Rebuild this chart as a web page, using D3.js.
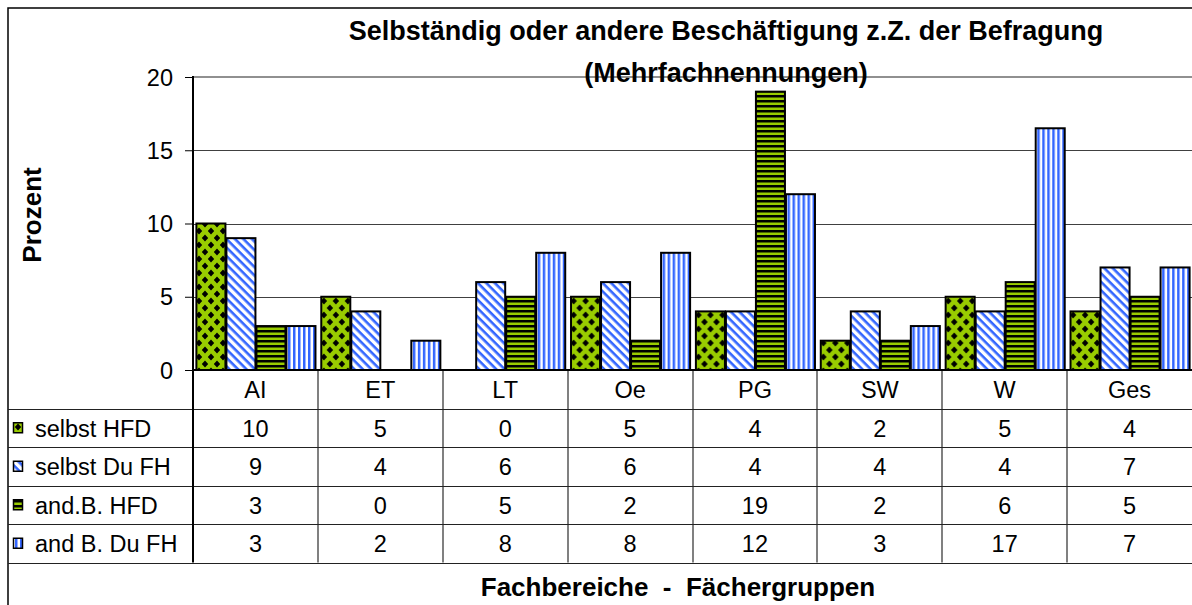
<!DOCTYPE html>
<html>
<head>
<meta charset="utf-8">
<script src="https://cdn.jsdelivr.net/npm/d3@7"></script>
<style>
  body { margin: 0; background: #fff; }
  text { font-family: Arial, 'Liberation Sans', sans-serif; fill: #000; }
</style>
</head>
<body>
<div id="chart"></div>
<script>
const categories = ['AI', 'ET', 'LT', 'Oe', 'PG', 'SW', 'W', 'Ges']
const seriesNames = ['selbst HFD', 'selbst Du FH', 'and.B. HFD', 'and B. Du FH']
const selbstHFD = [10, 5, 0, 5, 4, 2, 5, 4]
const selbstDuFH = [9, 4, 6, 6, 4, 4, 4, 7]
const andBHFD = [3, 0, 5, 2, 19, 2, 6, 5]
const andBDuFH = [3, 2, 8, 8, 12, 3, 16.5, 7]
const yTicks = [0, 5, 10, 15, 20]
const title = ['Selbständig oder andere Beschäftigung z.Z. der Befragung', '(Mehrfachnennungen)']

const series = [selbstHFD, selbstDuFH, andBHFD, andBDuFH]

const width = 1192
const height = 605
const plot = {left: 193, right: 1192, top: 77, bottom: 370}
const rowH = 38.5
const tableLeft = 8
const fontSize = '23.5px'
const boldSize = '26px'

const svg = d3.select('#chart').append('svg')
    .attr('width', width)
    .attr('height', height)

// fill patterns
const defs = svg.append('defs')
const green = '#99cc00'
const blue = '#3366ff'

let p = defs.append('pattern').attr('id', 'p0').attr('patternUnits', 'userSpaceOnUse')
    .attr('width', 12).attr('height', 14)
p.append('rect').attr('width', 12).attr('height', 14).attr('fill', green)
p.append('path').attr('fill', '#000')
    .attr('d', 'M6,3.4L9.2,7L6,10.6L2.8,7Z M0,-3.6L3.2,0L0,3.6L-3.2,0Z M12,-3.6L15.2,0L12,3.6L8.8,0Z M0,10.4L3.2,14L0,17.6L-3.2,14Z M12,10.4L15.2,14L12,17.6L8.8,14Z')

p = defs.append('pattern').attr('id', 'p1').attr('patternUnits', 'userSpaceOnUse')
    .attr('width', 8).attr('height', 6).attr('patternTransform', 'rotate(45)')
p.append('rect').attr('width', 8).attr('height', 6).attr('fill', '#fff')
p.append('rect').attr('width', 8).attr('height', 2.6).attr('fill', blue)

p = defs.append('pattern').attr('id', 'p2').attr('patternUnits', 'userSpaceOnUse')
    .attr('width', 5).attr('height', 5)
p.append('rect').attr('width', 5).attr('height', 5).attr('fill', green)
p.append('rect').attr('width', 5).attr('height', 2.5).attr('fill', '#000')

p = defs.append('pattern').attr('id', 'p3').attr('patternUnits', 'userSpaceOnUse')
    .attr('width', 5).attr('height', 5)
p.append('rect').attr('width', 5).attr('height', 5).attr('fill', '#fff')
p.append('rect').attr('width', 2.5).attr('height', 5).attr('fill', blue)

// scales
const x = d3.scaleBand().domain(categories).range([plot.left, plot.right])
const x1 = d3.scaleBand().domain(d3.range(series.length))
    .range([0, x.bandwidth()]).paddingOuter(0.08)
const y = d3.scaleLinear().domain([0, 20]).range([plot.bottom, plot.top])

// outer frame
svg.append('path').attr('d', `M${tableLeft},${height}V8H${width}`)
    .attr('fill', 'none').attr('stroke', '#000').attr('stroke-width', 1.5)

// gridlines
svg.append('g').selectAll('line').data(yTicks.filter(d => d > 0 && d < 20)).join('line')
    .attr('x1', plot.left).attr('x2', plot.right)
    .attr('y1', d => Math.round(y(d)) + 0.5).attr('y2', d => Math.round(y(d)) + 0.5)
    .attr('stroke', '#404040').attr('stroke-width', 1)
svg.append('line')
    .attr('x1', plot.left).attr('x2', plot.right)
    .attr('y1', y(20)).attr('y2', y(20))
    .attr('stroke', '#909090').attr('stroke-width', 2)

// y axis
const yAxis = d3.axisLeft(y).tickValues(yTicks).tickSize(8).tickPadding(12)
const gy = svg.append('g').attr('transform', `translate(${plot.left},0)`).call(yAxis)
gy.select('.domain').remove()
gy.selectAll('.tick line').attr('stroke', '#000').attr('stroke-width', 1)
gy.selectAll('.tick text').style('font-size', fontSize)
    .style('font-family', "Arial, 'Liberation Sans', sans-serif").attr('dy', '0.35em')

svg.append('text')
    .attr('transform', 'translate(32,215)rotate(-90)')
    .attr('dy', '0.35em')
    .attr('text-anchor', 'middle')
    .style('font-size', boldSize).style('font-weight', 'bold')
    .text('Prozent')

// bars
const groups = svg.append('g').selectAll('g').data(categories).join('g')
    .attr('transform', d => `translate(${x(d)},0)`)
groups.selectAll('rect')
    .data((c, i) => series.map((s, k) => ({k: k, v: s[i]})))
    .join('rect')
    .filter(d => d.v > 0)
    .attr('x', d => x1(d.k) + 1)
    .attr('width', x1.bandwidth() - 1)
    .attr('y', d => y(d.v))
    .attr('height', d => y(0) - y(d.v))
    .attr('fill', d => `url(#p${d.k})`)
    .attr('stroke', '#000').attr('stroke-width', 2)

// table
const tableBottom = plot.bottom + rowH * 5
const gt = svg.append('g')
gt.selectAll('line.cat').data(categories.slice(1)).join('line')
    .attr('x1', d => Math.round(x(d))).attr('x2', d => Math.round(x(d)))
    .attr('y1', plot.bottom).attr('y2', tableBottom)
    .attr('stroke', '#808080').attr('stroke-width', 2)
gt.selectAll('line.row').data(d3.range(1, 6)).join('line')
    .attr('x1', tableLeft).attr('x2', plot.right)
    .attr('y1', d => Math.round(plot.bottom + d * rowH) + 0.5)
    .attr('y2', d => Math.round(plot.bottom + d * rowH) + 0.5)
    .attr('stroke', '#222').attr('stroke-width', 1.2)

// baseline and y axis line
svg.append('line').attr('x1', plot.left).attr('x2', plot.right)
    .attr('y1', plot.bottom).attr('y2', plot.bottom)
    .attr('stroke', '#000').attr('stroke-width', 2)
svg.append('line').attr('x1', plot.left).attr('x2', plot.left)
    .attr('y1', plot.top - 1).attr('y2', tableBottom)
    .attr('stroke', '#000').attr('stroke-width', 2)

// category labels
gt.selectAll('text.cat').data(categories).join('text')
    .attr('x', d => x(d) + x.bandwidth() / 2)
    .attr('y', plot.bottom + rowH / 2 + 1)
    .attr('dy', '0.35em')
    .attr('text-anchor', 'middle')
    .style('font-size', fontSize)
    .text(d => d)

// value rows
series.forEach((s, k) => {
  const cy = plot.bottom + rowH * (k + 1) + rowH / 2 + 1
  gt.selectAll('text.v' + k).data(s).join('text')
      .attr('x', (d, i) => x(categories[i]) + x.bandwidth() / 2)
      .attr('y', cy)
      .attr('dy', '0.35em')
      .attr('text-anchor', 'middle')
      .style('font-size', fontSize)
      .text(d => Math.round(d))
  gt.append('rect')
      .attr('x', 13.5).attr('y', cy - 6)
      .attr('width', 9).attr('height', 10)
      .attr('fill', `url(#p${k})`)
      .attr('stroke', '#000').attr('stroke-width', 1.5)
  gt.append('text')
      .attr('x', 35).attr('y', cy)
      .attr('dy', '0.35em')
      .style('font-size', fontSize)
      .text(seriesNames[k])
})

// axis title
svg.append('text')
    .attr('x', 678).attr('y', tableBottom + 24)
    .attr('dy', '0.35em')
    .attr('text-anchor', 'middle')
    .style('font-size', boldSize).style('font-weight', 'bold')
    .attr('xml:space', 'preserve')
    .style('white-space', 'pre')
    .text('Fachbereiche  -  Fächergruppen')

// chart title
svg.append('g').selectAll('text').data(title).join('text')
    .attr('x', 726)
    .attr('y', (d, i) => 31 + i * 42)
    .attr('dy', '0.35em')
    .attr('text-anchor', 'middle')
    .style('font-size', '27px').style('font-weight', 'bold')
    .text(d => d)
</script>
</body>
</html>
